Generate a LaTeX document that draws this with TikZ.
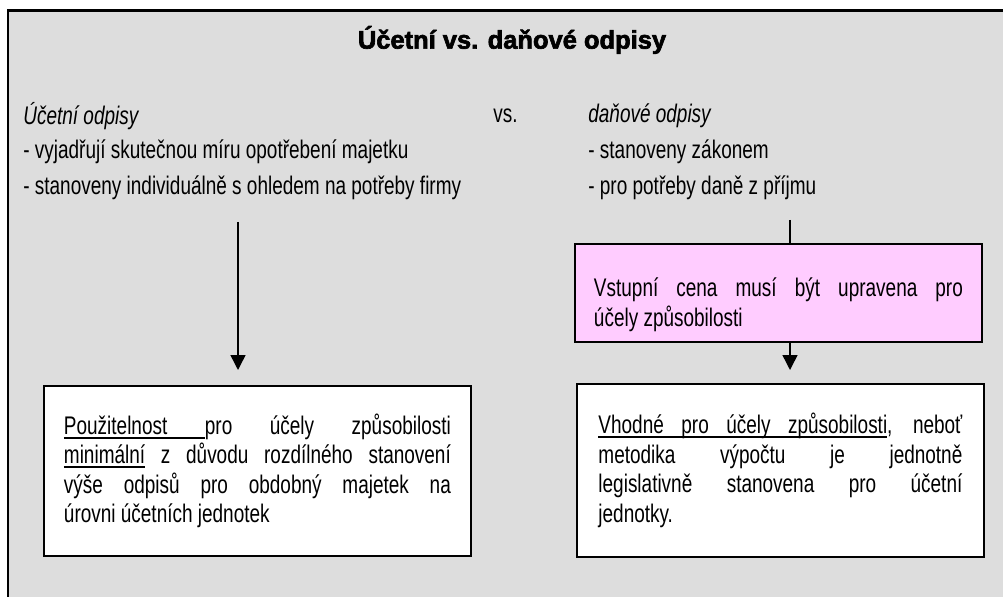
\documentclass[tikz,border=0pt]{standalone}
\usepackage{fontspec}
\setmainfont{Liberation Sans}[FakeStretch=0.745]
\newfontfamily\titlefont{Liberation Sans}[BoldFeatures={FakeBold=2.5}]
\usetikzlibrary{positioning}
\usetikzlibrary{arrows.meta}

\definecolor{bggray}{HTML}{DDDDDD}
\definecolor{boxpink}{HTML}{FFCCFF}

% underlined word and underlined (stretchable) space
\newcommand\ul[1]{\setbox0\hbox{#1}\rlap{\rule[-2.4pt]{\wd0}{0.9pt}}\box0\relax}
\newcommand\us{\leaders\hrule height -1.5pt depth 2.4pt\hskip\fontdimen2\font plus\fontdimen3\font minus\fontdimen4\font}

\tikzset{
    head/.style={anchor=west, inner sep=0pt},
    txtbox/.style={draw, line width=1.1pt, fill=white, anchor=north west,
        align=justify, inner ysep=0pt,
        font=\fontsize{14.5pt}{16.8pt}\selectfont},
    arr/.style={line width=0.85pt, -{Triangle[length=0.3cm,width=0.3cm]}},
    conn/.style={line width=0.85pt}
}

\begin{document}
\begin{tikzpicture}[x=0.02cm, y=-0.02cm,
    font=\fontsize{14.5pt}{17pt}\selectfont]
    \useasboundingbox (0,0) rectangle (1003,597);

    % the grey frame, cut at the right and at the bottom
    \fill[bggray] (8,11) rectangle (1010,605);
    \draw[line width=1.7pt] (1010,11) -- (8,11) -- (8,605);

    % the title
    \node[inner sep=0pt] (title) at (512,40)
        {\titlefont\fontsize{14.5pt}{16pt}\selectfont\bfseries Účetní vs. daňové odpisy};

    % the two columns
    \node[head] (uc) at (23,116) {\itshape Účetní odpisy};
    \node[head] (vs) at (493,116) {vs.};
    \node[head] (da) at (588,116) {\itshape daňové odpisy};
    \node[head] (uc1) at (23,152) {- vyjadřují skutečnou míru opotřebení majetku};
    \node[head] (uc2) at (23,188) {- stanoveny individuálně s ohledem na potřeby firmy};
    \node[head] (da1) at (588,152) {- stanoveny zákonem};
    \node[head] (da2) at (588,188) {- pro potřeby daně z příjmu};

    % the boxes
    \node[txtbox, fill=boxpink, text width=7.38cm, inner xsep=0.38cm,
        minimum height=1.96cm] (cena) at (574,243)
        {\rule{0pt}{0.85cm}Vstupní cena musí být upravena pro\linebreak účely způsobilosti};
    \node[txtbox, text width=7.74cm, inner xsep=0.4cm,
        minimum height=3.4cm] (lbox) at (43,385)
        {\ul{Použitelnost}\us pro účely způsobilosti\linebreak
        \ul{minimální} z důvodu rozdílného stanovení\linebreak
        výše odpisů pro obdobný majetek na\linebreak
        úrovni účetních jednotek\par\vspace{0.12cm}};
    \node[txtbox, text width=7.28cm, inner xsep=0.43cm,
        minimum height=3.46cm] (rbox) at (576,383)
        {\ul{Vhodné}\us\ul{pro}\us\ul{účely}\us\ul{způsobilosti}, neboť\linebreak
        metodika výpočtu je jednotně\linebreak
        legislativně stanovena pro účetní\linebreak
        jednotky.\par\vspace{0.18cm}};

    % the arrows
    \coordinate (lstart) at (238,222);
    \coordinate (rstart) at (790,220);
    \draw[arr, shorten >=0.3cm] (lstart) -- (lstart |- lbox.north);
    \draw[conn] (rstart) -- (rstart |- cena.north);
    \draw[arr, shorten >=0.26cm] (rstart |- cena.south) -- (rstart |- rbox.north);
\end{tikzpicture}
\end{document}
